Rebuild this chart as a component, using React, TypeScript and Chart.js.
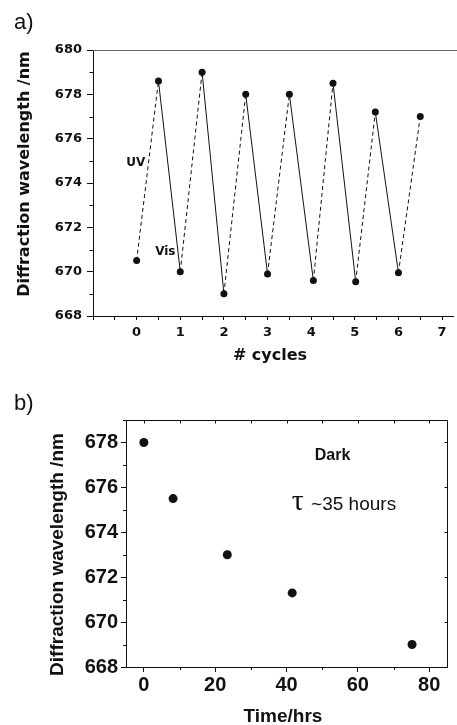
import React, { useEffect, useRef } from 'react';
import { Chart, registerables } from 'chart.js';

Chart.register(...registerables);

// ---------- Panel a) : switching cycles ----------
const cycleX = [0, 0.5, 1, 1.5, 2, 2.5, 3, 3.5, 4.05, 4.5, 5.02, 5.47, 6, 6.5];
const cycleWavelength = [670.5, 678.6, 670.0, 679.0, 669.0, 678.0, 669.9, 678.0, 669.6, 678.5, 669.55, 677.2, 669.95, 677.0];
const cycleTicks = [-1, -0.5, 0, 0.5, 1, 1.5, 2, 2.5, 3, 3.5, 4, 4.5, 5, 5.5, 6, 6.5, 7];
const cycleTickLabels = ['', '', '0', '', '1', '', '2', '', '3', '', '4', '', '5', '', '6', '', '7'];
const waveTicksA = [668, 670, 672, 674, 676, 678, 680];
const waveMinorA = [669, 671, 673, 675, 677, 679];

// ---------- Panel b) : dark relaxation ----------
const timeHours = [0, 8.2, 23.4, 41.6, 75.2];
const darkWavelength = [678.0, 675.5, 673.0, 671.3, 669.0];
const timeTicks = [0, 20, 40, 60, 80];
const timeMinor = [10, 30, 50, 70];
const timeTopTicks = [0, 10, 20, 30, 40, 50, 60, 70, 80];
const waveTicksB = [668, 670, 672, 674, 676, 678];
const waveMinorB = [669, 671, 673, 675, 677, 679];

const INK = '#111';
const SANS = '"Liberation Sans", Arial, sans-serif';
const DEJA = '"DejaVu Sans", sans-serif';

type TextItem = {
  text: string;
  x: number;
  y: number;
  font: string;
  align?: CanvasTextAlign;
  rotate?: boolean;
  data?: boolean; // x/y given in data coordinates
};

function drawTexts(chart: any, items: TextItem[]) {
  const ctx = chart.ctx as CanvasRenderingContext2D;
  const xs = chart.scales.x;
  const ys = chart.scales.y;
  items.forEach((t) => {
    const px = t.data ? xs.getPixelForValue(t.x) : t.x;
    const py = t.data ? ys.getPixelForValue(t.y) : t.y;
    ctx.save();
    ctx.fillStyle = INK;
    ctx.font = t.font;
    ctx.textAlign = t.align || 'left';
    ctx.textBaseline = 'alphabetic';
    ctx.translate(px, py);
    if (t.rotate) ctx.rotate(-Math.PI / 2);
    ctx.fillText(t.text, 0, 0);
    ctx.restore();
  });
}

function line(ctx: CanvasRenderingContext2D, x1: number, y1: number, x2: number, y2: number) {
  ctx.beginPath();
  ctx.moveTo(x1, y1);
  ctx.lineTo(x2, y2);
  ctx.stroke();
}

const textsA: TextItem[] = [
  { text: 'a)', x: 14, y: 28.5, font: `22px ${SANS}` },
  { text: 'Diffraction wavelength /nm', x: 28.5, y: 174, font: `bold 16px ${DEJA}`, align: 'center', rotate: true },
  { text: '# cycles', x: 270, y: 360, font: `bold 16px ${DEJA}`, align: 'center' },
  { text: 'UV', x: 0.2, y: 674.75, font: `bold 12px ${DEJA}`, align: 'right', data: true },
  { text: 'Vis', x: 0.425, y: 670.75, font: `bold 12px ${DEJA}`, align: 'left', data: true },
];

const textsB: TextItem[] = [
  { text: 'b)', x: 14, y: 48, font: `22px ${SANS}` },
  { text: 'Diffraction wavelength /nm', x: 62.7, y: 192.5, font: `bold 19px ${SANS}`, align: 'center', rotate: true },
  { text: 'Time/hrs', x: 283, y: 360, font: `bold 19px ${SANS}`, align: 'center' },
  { text: 'Dark', x: 52.9, y: 677.2, font: `bold 16px ${SANS}`, align: 'center', data: true },
  { text: '\u03C4', x: 41.5, y: 675.0, font: `30px "Liberation Serif", serif`, align: 'left', data: true },
  { text: '~35 hours', x: 46.9, y: 675.0, font: `19px ${SANS}`, align: 'left', data: true },
];

const decorA = {
  id: 'decorA',
  afterDraw(chart: any) {
    const ctx = chart.ctx as CanvasRenderingContext2D;
    const { left, right, top } = chart.chartArea;
    const ys = chart.scales.y;
    ctx.save();
    ctx.lineWidth = 1;
    ctx.strokeStyle = '#666';
    line(ctx, left, Math.round(top) + 0.5, chart.width, Math.round(top) + 0.5);
    ctx.strokeStyle = INK;
    waveMinorA.forEach((v) => {
      const y = Math.round(ys.getPixelForValue(v)) + 0.5;
      line(ctx, left - 3.5, y, left, y);
    });
    ctx.restore();
    drawTexts(chart, textsA);
  },
};

const decorB = {
  id: 'decorB',
  afterDraw(chart: any) {
    const ctx = chart.ctx as CanvasRenderingContext2D;
    const { left, right, top, bottom } = chart.chartArea;
    const xs = chart.scales.x;
    const ys = chart.scales.y;
    ctx.save();
    ctx.lineWidth = 1;
    ctx.strokeStyle = INK;
    const t = Math.round(top) + 0.5;
    const r = Math.round(right) + 0.5;
    line(ctx, left, t, r, t);
    line(ctx, r, t, r, bottom);
    timeTopTicks.forEach((v) => {
      const x = Math.round(xs.getPixelForValue(v)) + 0.5;
      line(ctx, x, t, x, t + 3);
    });
    waveTicksB.forEach((v) => {
      const y = Math.round(ys.getPixelForValue(v)) + 0.5;
      line(ctx, r, y, r - 3, y);
    });
    waveMinorB.forEach((v) => {
      const y = Math.round(ys.getPixelForValue(v)) + 0.5;
      line(ctx, left - 3, y, left, y);
    });
    timeMinor.forEach((v) => {
      const x = Math.round(xs.getPixelForValue(v)) + 0.5;
      line(ctx, x, bottom, x, bottom + 3);
    });
    ctx.restore();
    drawTexts(chart, textsB);
  },
};

export default function App() {
  const refA = useRef<HTMLCanvasElement>(null);
  const refB = useRef<HTMLCanvasElement>(null);

  useEffect(() => {
    const tickFontA = { family: DEJA, weight: 'bold' as const, size: 13 };
    const tickFontB = { family: SANS, weight: 'bold' as const, size: 20 };

    const chartA = new Chart(refA.current as HTMLCanvasElement, {
      type: 'line',
      data: {
        datasets: [
          {
            data: cycleX.map((x, i) => ({ x, y: cycleWavelength[i] })),
            borderColor: INK,
            borderWidth: 1,
            pointRadius: 3.5,
            pointBackgroundColor: INK,
            pointBorderColor: INK,
            pointBorderWidth: 0,
            tension: 0,
            fill: false,
            segment: {
              borderDash: (ctx: any) => (ctx.p1.parsed.y > ctx.p0.parsed.y ? [4, 3] : undefined),
            },
          } as any,
        ],
      },
      options: {
        animation: false,
        responsive: false,
        maintainAspectRatio: false,
        layout: { padding: { top: 50, right: 1, left: 0, bottom: 0 } },
        plugins: { legend: { display: false }, tooltip: { enabled: false }, title: { display: false } },
        scales: {
          x: {
            type: 'linear',
            min: -1,
            max: 7.25,
            afterBuildTicks: (s: any) => {
              s.ticks = cycleTicks.map((v) => ({ value: v }));
            },
            afterFit: (s: any) => {
              s.height = 54;
            },
            ticks: {
              autoSkip: false,
              maxRotation: 0,
              padding: 5,
              font: tickFontA,
              color: INK,
              callback: (_v: any, i: number) => cycleTickLabels[i],
            },
            grid: { display: true, drawOnChartArea: false, drawTicks: true, tickLength: 4, color: INK },
            border: { display: true, color: INK, width: 1 },
          },
          y: {
            type: 'linear',
            min: 668,
            max: 680,
            afterBuildTicks: (s: any) => {
              s.ticks = waveTicksA.map((v) => ({ value: v }));
            },
            afterFit: (s: any) => {
              s.width = 93;
            },
            ticks: { padding: 5, font: tickFontA, color: INK, callback: (v: any) => String(v) },
            grid: { display: true, drawOnChartArea: false, drawTicks: true, tickLength: 6, color: INK },
            border: { display: true, color: INK, width: 1 },
          },
        },
      } as any,
      plugins: [decorA],
    });

    const chartB = new Chart(refB.current as HTMLCanvasElement, {
      type: 'scatter',
      data: {
        datasets: [
          {
            data: timeHours.map((x, i) => ({ x, y: darkWavelength[i] })),
            pointRadius: 4.5,
            pointBackgroundColor: INK,
            pointBorderColor: INK,
            pointBorderWidth: 0,
            showLine: false,
          },
        ],
      },
      options: {
        animation: false,
        responsive: false,
        maintainAspectRatio: false,
        layout: { padding: { top: 58, right: 10, left: 0, bottom: 0 } },
        plugins: { legend: { display: false }, tooltip: { enabled: false }, title: { display: false } },
        scales: {
          x: {
            type: 'linear',
            min: -5,
            max: 85,
            afterBuildTicks: (s: any) => {
              s.ticks = timeTicks.map((v) => ({ value: v }));
            },
            afterFit: (s: any) => {
              s.height = 58;
            },
            ticks: { autoSkip: false, maxRotation: 0, padding: 1, font: tickFontB, color: INK, callback: (v: any) => String(v) },
            grid: { display: true, drawOnChartArea: false, drawTicks: true, tickLength: 5, color: INK },
            border: { display: true, color: INK, width: 1 },
          },
          y: {
            type: 'linear',
            min: 668,
            max: 679,
            afterBuildTicks: (s: any) => {
              s.ticks = waveTicksB.map((v) => ({ value: v }));
            },
            afterFit: (s: any) => {
              s.width = 126;
            },
            ticks: { padding: 3, font: tickFontB, color: INK, callback: (v: any) => String(v) },
            grid: { display: true, drawOnChartArea: false, drawTicks: true, tickLength: 5, color: INK },
            border: { display: true, color: INK, width: 1 },
          },
        },
      } as any,
      plugins: [decorB],
    });

    return () => {
      chartA.destroy();
      chartB.destroy();
    };
  }, []);

  return (
    <div style={{ position: 'fixed', left: 0, top: 0, width: 457, height: 725, overflow: 'hidden', background: '#fff' }}>
      <canvas ref={refA} width={457} height={370} style={{ position: 'absolute', left: 0, top: 0 }} />
      <canvas ref={refB} width={457} height={363} style={{ position: 'absolute', left: 0, top: 362 }} />
    </div>
  );
}
